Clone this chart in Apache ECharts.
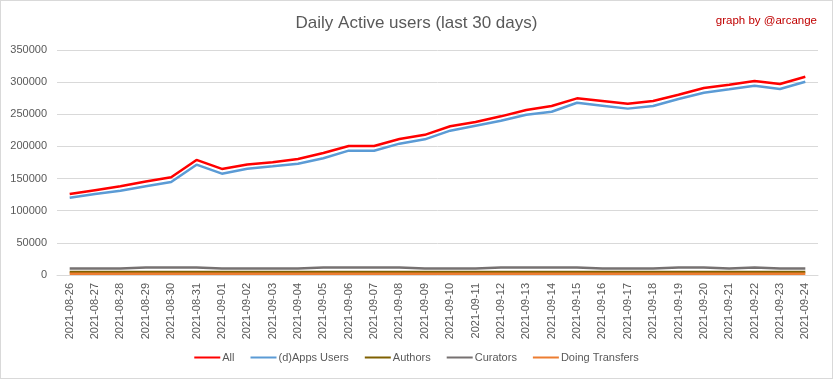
<!DOCTYPE html>
<html><head><meta charset="utf-8">
<script src="https://cdn.jsdelivr.net/npm/echarts@6/dist/echarts.min.js"></script>
<style>
html,body{margin:0;padding:0;background:#fff;}
#c{width:831px;height:377px;border:1px solid #d9d9d9;}
</style></head><body>
<div id="c"></div>
<script>
const categories = ['2021-08-26','2021-08-27','2021-08-28','2021-08-29','2021-08-30','2021-08-31','2021-09-01','2021-09-02','2021-09-03','2021-09-04','2021-09-05','2021-09-06','2021-09-07','2021-09-08','2021-09-09','2021-09-10','2021-09-11','2021-09-12','2021-09-13','2021-09-14','2021-09-15','2021-09-16','2021-09-17','2021-09-18','2021-09-19','2021-09-20','2021-09-21','2021-09-22','2021-09-23','2021-09-24'];
const allUsers = [126000,132000,138000,145500,152000,179000,165000,172000,175300,180400,189800,200700,200700,211600,218000,231300,238000,246800,256700,262900,274800,270700,266500,270700,280500,290900,296000,301800,297100,308500];
const appsUsers = [120000,126000,131000,138000,144700,171600,157600,165400,169000,173200,181500,193400,193400,204300,211000,224500,232300,240000,249400,254000,268000,263400,258800,262900,273800,283600,288800,294500,289300,300700];
const authors = [4500,4500,4500,4500,4500,4500,4500,4500,4500,4500,4500,4500,4500,4500,4500,4500,4500,4500,4500,4500,4500,4500,4500,4500,4500,4500,4500,4500,4500,4500];
const curators = [10000,10000,10000,11500,11500,11500,10000,10000,10000,10000,11500,11500,11500,11500,10000,10000,10000,11500,11500,11500,11500,10000,10000,10000,11500,11500,10000,11500,10000,10000];
const transfers = [2000,2000,2000,2000,2000,2000,2000,2000,2000,2000,2000,2000,2000,2000,2000,2000,2000,2000,2000,2000,2000,2000,2000,2000,2000,2000,2000,2000,2000,2000];
const yTicks = [0,50000,100000,150000,200000,250000,300000,350000];

const font = "'Liberation Sans',sans-serif";
const chart = echarts.init(document.getElementById('c'));
function s(name, data, color, w){
  return {name, type:'line', data, symbol:'none', smooth:false, lineStyle:{color, width:w}, itemStyle:{color}, z: 2};
}
chart.setOption({
  animation:false,
  textStyle:{fontFamily:font},
  title:[
    {text:'Daily Active users (last 30 days)', left:'center', top:9, textStyle:{fontSize:17, fontWeight:'normal', color:'#595959', fontFamily:font}},
    {text:'graph by @arcange', right:10, top:9, textStyle:{fontSize:11.5, fontWeight:'normal', color:'#c00000', fontFamily:font}}
  ],
  grid:{left:56, right:14, top:49, height:225},
  legend:{bottom:10, left:'center', itemWidth:26, itemHeight:2, itemGap:16, icon:'rect',
    textStyle:{fontSize:11, color:'#595959', fontFamily:font, padding:[0,0,0,-3]},
    data:['All','(d)Apps Users','Authors','Curators','Doing Transfers']},
  xAxis:{type:'category', data:categories, boundaryGap:true,
    axisLine:{lineStyle:{color:'#d9d9d9'}}, axisTick:{show:false},
    axisLabel:{rotate:90, interval:0, fontSize:11, color:'#595959', margin:8, fontFamily:font}},
  yAxis:{type:'value', min:yTicks[0], max:yTicks[yTicks.length-1], interval:50000,
    axisLine:{show:false}, axisTick:{show:false},
    splitLine:{lineStyle:{color:'#d9d9d9'}},
    axisLabel:{fontSize:11, color:'#595959', margin:10, fontFamily:font, formatter:v => String(v)}},
  series:[
    s('All', allUsers, '#ff0000', 2.5),
    s('(d)Apps Users', appsUsers, '#5b9bd5', 2.5),
    s('Authors', authors, '#7f6000', 2.5),
    s('Curators', curators, '#767171', 2.5),
    s('Doing Transfers', transfers, '#ed7d31', 2.5)
  ]
});
</script></body></html>
